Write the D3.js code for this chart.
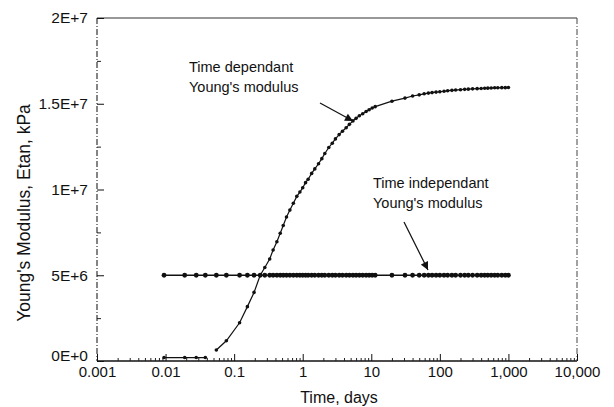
<!DOCTYPE html>
<html>
<head>
<meta charset="utf-8">
<script src="https://cdn.jsdelivr.net/npm/d3@7"></script>
<style>
  html, body { margin: 0; padding: 0; background: #fff; }
  svg { display: block; }
  text { font-family: "Liberation Sans", Arial, Helvetica, sans-serif; fill: #111; }
</style>
</head>
<body>
<svg id="chart" width="614" height="407"></svg>
<script>
// ---------- data ----------
const xTickValues = [0.001, 0.01, 0.1, 1, 10, 100, 1000, 10000];
const xTickLabels = ["0.001", "0.01", "0.1", "1", "10", "100", "1,000", "10,000"];
const yTickValues = [0, 5e6, 1e7, 1.5e7, 2e7];
const yTickLabels = ["0E+0", "5E+6", "1E+7", "1.5E+7", "2E+7"];
const yMinorValues = [2.5e6, 7.5e6, 1.25e7, 1.75e7];

// early time steps (days)
const timesEarly = [0.0095, 0.019, 0.028, 0.038];
// main time steps (days)
const timesMain = [0.055, 0.077, 0.12, 0.156, 0.195, 0.24, 0.28, 0.33, 0.37, 0.42,
  0.47, 0.52, 0.58, 0.65, 0.73, 0.82, 0.91, 1.0, 1.1, 1.2,
  1.35, 1.5, 1.7, 1.9, 2.1, 2.4, 2.7, 3.0, 3.4, 3.8,
  4.3, 4.8, 5.4, 6.0, 6.7, 7.5, 8.4, 9.3, 10.3, 11.4,
  20, 31, 40, 50, 59, 68, 77, 88, 100, 115,
  130, 150, 170, 200, 230, 260, 300, 350, 400, 450,
  500, 560, 630, 700, 800, 900, 1000];

// time dependant Young's modulus (kPa)
const depEarly = [2.0e5, 2.0e5, 2.0e5, 2.0e5];
const depMain = [0.64e6, 1.18e6, 2.23e6, 3.17e6, 4.0e6, 5.0e6, 5.45e6, 5.95e6, 6.47e6, 6.95e6,
  7.45e6, 7.9e6, 8.4e6, 8.8e6, 9.2e6, 9.6e6, 9.85e6, 10.1e6, 10.4e6, 10.6e6,
  10.94e6, 11.2e6, 11.5e6, 11.8e6, 12.1e6, 12.45e6, 12.7e6, 12.95e6, 13.2e6, 13.4e6,
  13.6e6, 13.8e6, 14.0e6, 14.15e6, 14.3e6, 14.42e6, 14.55e6, 14.65e6, 14.75e6, 14.83e6,
  15.15e6, 15.33e6, 15.45e6, 15.52e6, 15.58e6, 15.62e6, 15.65e6, 15.68e6, 15.7e6, 15.73e6,
  15.76e6, 15.78e6, 15.8e6, 15.82e6, 15.84e6, 15.85e6, 15.87e6, 15.88e6, 15.89e6, 15.9e6,
  15.91e6, 15.92e6, 15.93e6, 15.93e6, 15.94e6, 15.94e6, 15.95e6];

// time independant Young's modulus (kPa)
const indepEarly = [5e6, 5e6, 5e6, 5e6];
const indepMain = [5e6, 5e6, 5e6, 5e6, 5e6, 5e6, 5e6, 5e6, 5e6, 5e6,
  5e6, 5e6, 5e6, 5e6, 5e6, 5e6, 5e6, 5e6, 5e6, 5e6,
  5e6, 5e6, 5e6, 5e6, 5e6, 5e6, 5e6, 5e6, 5e6, 5e6,
  5e6, 5e6, 5e6, 5e6, 5e6, 5e6, 5e6, 5e6, 5e6, 5e6,
  5e6, 5e6, 5e6, 5e6, 5e6, 5e6, 5e6, 5e6, 5e6, 5e6,
  5e6, 5e6, 5e6, 5e6, 5e6, 5e6, 5e6, 5e6, 5e6, 5e6,
  5e6, 5e6, 5e6, 5e6, 5e6, 5e6, 5e6];

// ---------- layout ----------
const pL = 97, pR = 577, pT = 18, pB = 361;

const svg = d3.select("#chart");
const x = d3.scaleLog().domain([0.001, 10000]).range([pL, pR]);
const y = d3.scaleLinear().domain([0, 2e7]).range([pB, pT]);

// minor x ticks 2..9 per decade (positions only)
const xMinor = [];
for (let e = -3; e < 4; e++) for (let k = 2; k <= 9; k++) xMinor.push(k * Math.pow(10, e));

// frame
svg.append("line").attr("x1", pL).attr("x2", pR).attr("y1", pT).attr("y2", pT)
  .attr("stroke", "#333").attr("stroke-width", 1.2);
svg.append("line").attr("x1", pL).attr("x2", pR).attr("y1", pB).attr("y2", pB)
  .attr("stroke", "#111").attr("stroke-width", 1.3);
svg.append("line").attr("x1", pL).attr("x2", pL).attr("y1", pT).attr("y2", pB)
  .attr("stroke", "#222").attr("stroke-width", 1.1).attr("stroke-dasharray", "6,2,1,2");
svg.append("line").attr("x1", pR).attr("x2", pR).attr("y1", pT).attr("y2", pB)
  .attr("stroke", "#444").attr("stroke-width", 1).attr("stroke-dasharray", "6,2,1,2");

// x axis
const gx = svg.append("g").attr("transform", `translate(0,${pB})`)
  .call(d3.axisBottom(x).tickValues(xTickValues)
    .tickFormat((d, i) => xTickLabels[i]).tickSizeInner(-7).tickSizeOuter(0).tickPadding(5));
gx.select(".domain").remove();
gx.selectAll("text").attr("font-size", 15).attr("fill", "#111")
  .attr("font-family", "Liberation Sans, Arial, sans-serif");
gx.selectAll("line").attr("stroke", "#111");

const gxm = svg.append("g").attr("transform", `translate(0,${pB})`)
  .call(d3.axisBottom(x).tickValues(xMinor).tickFormat("").tickSizeInner(-3).tickSizeOuter(0));
gxm.select(".domain").remove();
gxm.selectAll("line").attr("stroke", "#222");

// y axis
const gy = svg.append("g").attr("transform", `translate(${pL},0)`)
  .call(d3.axisLeft(y).tickValues(yTickValues)
    .tickFormat((d, i) => yTickLabels[i]).tickSizeInner(-7).tickSizeOuter(0).tickPadding(9));
gy.select(".domain").remove();
gy.selectAll("text").attr("font-size", 15.5).attr("fill", "#111")
  .attr("font-family", "Liberation Sans, Arial, sans-serif");
// the bottom label sits slightly above its tick, clear of "0.001"
gy.selectAll("text").filter(d => d === 0).attr("y", -5);
gy.selectAll("line").attr("stroke", "#111");

const gym = svg.append("g").attr("transform", `translate(${pL},0)`)
  .call(d3.axisLeft(y).tickValues(yMinorValues).tickFormat("").tickSizeInner(-4).tickSizeOuter(0));
gym.select(".domain").remove();
gym.selectAll("line").attr("stroke", "#222");

// axis titles
svg.append("text").attr("x", 339).attr("y", 403)
  .attr("text-anchor", "middle").attr("font-size", 16).text("Time, days");
svg.append("text").attr("transform", `translate(30,213) rotate(-90)`)
  .attr("text-anchor", "middle").attr("font-size", 17.5).text("Young's Modulus, Etan, kPa");

// series
const line = d3.line().x(d => x(d[0])).y(d => y(d[1]));
const zip = (a, b) => a.map((t, i) => [t, b[i]]);

const indepAll = zip(timesEarly.concat(timesMain), indepEarly.concat(indepMain));
const depE = zip(timesEarly, depEarly);
const depM = zip(timesMain, depMain);

svg.append("path").datum(indepAll).attr("d", line)
  .attr("fill", "none").attr("stroke", "#111").attr("stroke-width", 1.5);
svg.append("g").selectAll("circle").data(indepAll).join("circle")
  .attr("cx", d => x(d[0])).attr("cy", d => y(d[1])).attr("r", 2.4).attr("fill", "#111");

[depE, depM].forEach(s => {
  svg.append("path").datum(s).attr("d", line)
    .attr("fill", "none").attr("stroke", "#111").attr("stroke-width", 1.2);
  svg.append("g").selectAll("circle").data(s).join("circle")
    .attr("cx", d => x(d[0])).attr("cy", d => y(d[1])).attr("r", 1.8).attr("fill", "#111");
});

// annotations
const defs = svg.append("defs");
defs.append("marker").attr("id", "ah").attr("viewBox", "0 0 10 10").attr("refX", 10).attr("refY", 5)
  .attr("markerWidth", 10).attr("markerHeight", 8).attr("markerUnits", "userSpaceOnUse")
  .attr("orient", "auto")
  .append("path").attr("d", "M0,0 L10,5 L0,10 Z").attr("fill", "#111");

function note(x0, y0, lines) {
  const t = svg.append("text").attr("x", x0).attr("y", y0).attr("font-size", 14.5);
  lines.forEach((s, i) => t.append("tspan").attr("x", x0).attr("dy", i === 0 ? 0 : 20).text(s));
}
note(189, 72, ["Time dependant", "Young's modulus"]);
note(373, 188, ["Time independant", "Young's modulus"]);

svg.append("line").attr("x1", 320).attr("y1", 103).attr("x2", 353).attr("y2", 121)
  .attr("stroke", "#111").attr("stroke-width", 1.2).attr("marker-end", "url(#ah)");
svg.append("line").attr("x1", 404).attr("y1", 222).attr("x2", 428).attr("y2", 270)
  .attr("stroke", "#111").attr("stroke-width", 1.2).attr("marker-end", "url(#ah)");
</script>
</body>
</html>
